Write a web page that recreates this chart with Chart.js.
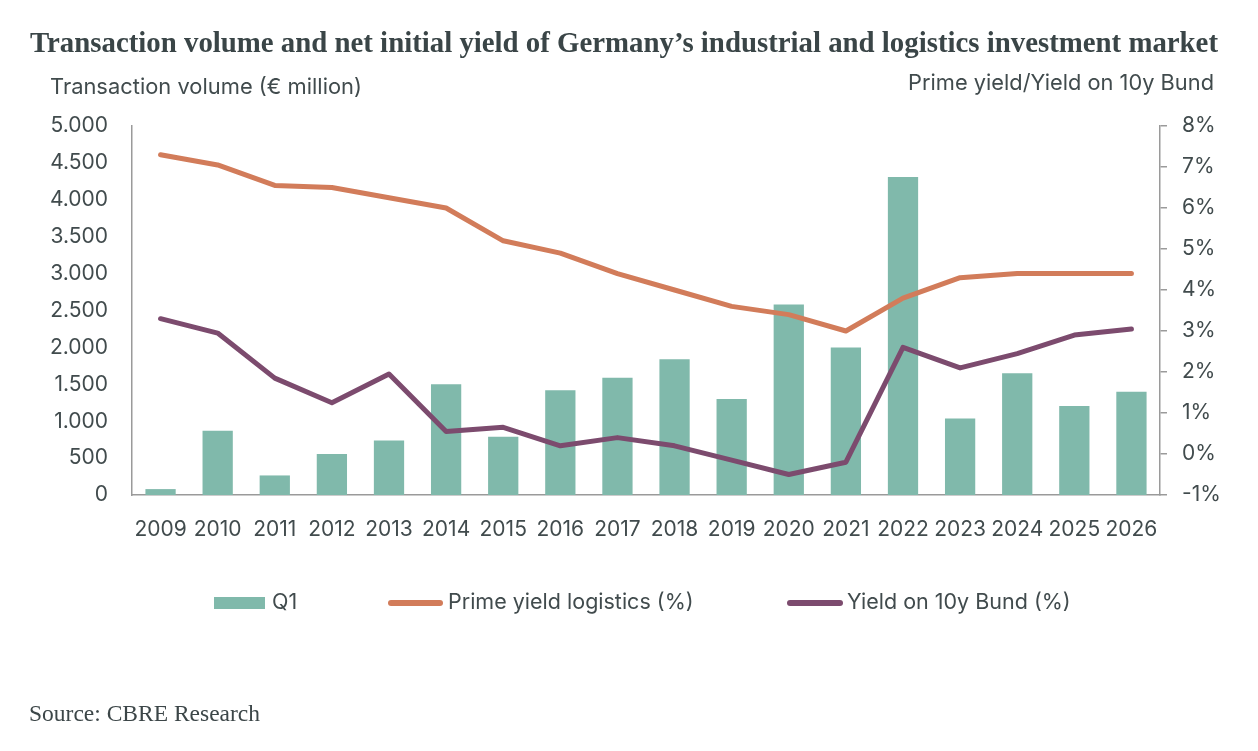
<!DOCTYPE html>
<html>
<head>
<meta charset="utf-8">
<script src="https://cdn.jsdelivr.net/npm/chart.js@4.4.1/dist/chart.umd.min.js"></script>
<style>
    body { margin: 0; background: #fff; }
    #wrap { width: 1258px; height: 751px; }
</style>
</head>
<body>
<div id="wrap"><canvas id="volChart" width="1258" height="751"></canvas></div>
<script>
'use strict'

// data
const years = ['2009', '2010', '2011', '2012', '2013', '2014', '2015', '2016', '2017',
    '2018', '2019', '2020', '2021', '2022', '2023', '2024', '2025', '2026'];

const volumeQ1 = [80, 870, 265, 555, 740, 1500, 790, 1420, 1590,
    1840, 1300, 2580, 2000, 4310, 1035, 1650, 1205, 1400];

const primeYield = [7.3, 7.05, 6.55, 6.5, 6.25, 6.0, 5.2, 4.9, 4.4,
    4.0, 3.6, 3.4, 3.0, 3.8, 4.3, 4.4, 4.4, 4.4];

const bundYield = [3.3, 2.95, 1.85, 1.25, 1.95, 0.55, 0.65, 0.2, 0.4,
    0.2, -0.15, -0.5, -0.2, 2.6, 2.1, 2.45, 2.9, 3.05];

const leftTicks = { min: 0, max: 5000, step: 500 };
const rightTicks = { min: -1, max: 8, step: 1 };

const seriesNames = ['Q1', 'Prime yield logistics (%)', 'Yield on 10y Bund (%)'];


const textColor = '#414b4d';
const axisColor = '#9a9a9a';
const sansFont = 'Inter, "Noto Sans", sans-serif';

function thousands(v){
    return String(v).replace(/\B(?=(\d{3})+(?!\d))/g, '.');
}

// title, axis titles, legend and source drawn on top of the chart
const extras = {
    id: 'extras',
    afterDraw(chart) {
        const ctx = chart.ctx;
        const ds = chart.data.datasets;
        ctx.save();

        ctx.fillStyle = '#3a4547';
        ctx.font = 'bold 29px "Liberation Serif", "Times New Roman", serif';
        ctx.textAlign = 'center';
        ctx.textBaseline = 'alphabetic';
        ctx.fillText('Transaction volume and net initial yield of Germany\u2019s industrial and logistics investment market', 624, 52, 1188);

        ctx.fillStyle = textColor;
        ctx.font = '22px ' + sansFont;
        ctx.textBaseline = 'middle';
        ctx.textAlign = 'left';
        ctx.fillText('Transaction volume (\u20ac million)', 50, 87, 312);
        ctx.textAlign = 'right';
        ctx.fillText('Prime yield/Yield on 10y Bund', 1214, 83, 306);

        // legend
        const ly = 603;
        ctx.font = '21.5px ' + sansFont;
        ctx.textAlign = 'left';
        ctx.fillStyle = ds[0].backgroundColor;
        ctx.fillRect(214, 597, 51, 12);
        ctx.fillStyle = textColor;
        ctx.fillText(seriesNames[0], 272, ly);

        ctx.lineCap = 'round';
        ctx.lineWidth = 6;
        ctx.strokeStyle = ds[1].borderColor;
        ctx.beginPath();
        ctx.moveTo(391, ly);
        ctx.lineTo(440, ly);
        ctx.stroke();
        ctx.fillText(seriesNames[1], 448, ly, 246);

        ctx.strokeStyle = ds[2].borderColor;
        ctx.beginPath();
        ctx.moveTo(790, ly);
        ctx.lineTo(840, ly);
        ctx.stroke();
        ctx.fillText(seriesNames[2], 847, ly, 225);

        ctx.font = '23.5px "Liberation Serif", "Times New Roman", serif';
        ctx.fillStyle = '#3c4648';
        ctx.fillText('Source: CBRE Research', 29, 715, 235);

        ctx.restore();
    }
};

function renderChart() {

    const ctx = document.getElementById('volChart').getContext('2d');

    new Chart(ctx, {
        type: 'bar',
        data: {
            labels: years,
            datasets: [
                {
                    type: 'bar',
                    label: seriesNames[0],
                    data: volumeQ1,
                    backgroundColor: '#80b9ab',
                    yAxisID: 'y',
                    barPercentage: 0.53,
                    categoryPercentage: 1,
                    order: 10
                },
                {
                    type: 'line',
                    label: seriesNames[1],
                    data: primeYield,
                    borderColor: '#d27c5a',
                    backgroundColor: '#d27c5a',
                    borderWidth: 5,
                    pointRadius: 0,
                    borderJoinStyle: 'round',
                    borderCapStyle: 'round',
                    tension: 0,
                    yAxisID: 'y1',
                    order: 2
                },
                {
                    type: 'line',
                    label: seriesNames[2],
                    data: bundYield,
                    borderColor: '#7c4b6e',
                    backgroundColor: '#7c4b6e',
                    borderWidth: 5,
                    pointRadius: 0,
                    borderJoinStyle: 'round',
                    borderCapStyle: 'round',
                    tension: 0,
                    yAxisID: 'y1',
                    order: 1
                }
            ]
        },
        options: {
            responsive: false,
            animation: false,
            layout: {
                padding: { top: 126, left: 0, right: 0, bottom: 0 }
            },
            plugins: {
                legend: { display: false },
                tooltip: { enabled: false }
            },
            scales: {
                x: {
                    grid: { display: false },
                    border: { display: true, color: axisColor, width: 1.5 },
                    ticks: {
                        color: textColor,
                        font: { family: sansFont, size: 21 },
                        padding: 14,
                        maxRotation: 0,
                        autoSkip: false
                    },
                    afterFit(scale) { scale.height = 256; }
                },
                y: {
                    position: 'left',
                    min: leftTicks.min,
                    max: leftTicks.max,
                    grid: { display: false },
                    border: { display: true, color: axisColor, width: 1.5 },
                    ticks: {
                        stepSize: leftTicks.step,
                        color: textColor,
                        font: { family: sansFont, size: 21 },
                        padding: 16,
                        callback: (v) => thousands(v)
                    },
                    afterFit(scale) { scale.width = 132; }
                },
                y1: {
                    position: 'right',
                    min: rightTicks.min,
                    max: rightTicks.max,
                    grid: {
                        display: true,
                        drawOnChartArea: false,
                        drawTicks: true,
                        tickLength: 7,
                        color: axisColor,
                        lineWidth: 1.5
                    },
                    border: { display: true, color: axisColor, width: 1.5 },
                    ticks: {
                        stepSize: rightTicks.step,
                        color: textColor,
                        font: { family: sansFont, size: 21 },
                        padding: 15,
                        callback: (v) => v + '%'
                    },
                    afterFit(scale) { scale.width = 98; }
                }
            }
        },
        plugins: [extras]
    });
}

renderChart();
</script>
</body>
</html>
